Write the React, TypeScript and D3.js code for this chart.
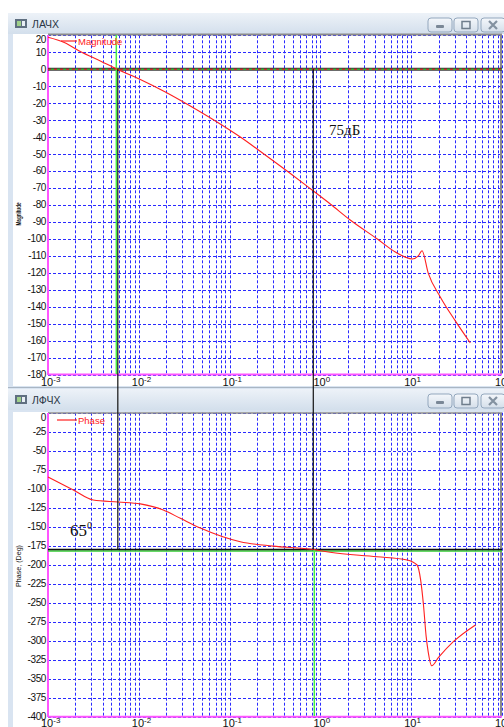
import { useEffect } from "react";
import * as d3 from "d3";

// --- data ---
const magFreq = [0.001, 0.00151, 0.00227, 0.00377, 0.0058, 0.01039, 0.0196, 0.0369, 0.0697, 0.1313, 0.247, 0.467, 0.836, 1.285, 2.13, 4.24, 6.68, 8.61, 10.28, 11.97, 13.15, 15.4, 20.9, 30.6, 44.8];
const magDb = [18.8, 15.75, 10.45, 4.85, 0, -6.06, -13.43, -21.68, -30.5, -39.96, -50.58, -61.5, -71.8, -79.45, -88.9, -100.1, -107.8, -110.8, -111.9, -110.1, -107, -120.2, -134.3, -148.4, -161.4];

const phFreq = [0.001, 0.0019, 0.00315, 0.00594, 0.0104, 0.0186, 0.0287, 0.0476, 0.131, 0.3, 0.835, 1.28, 4.2, 9.0, 11.6, 12.7, 13.7, 14.6, 15.4, 16.8, 20, 29.3, 51];
const phDeg = [-84.6, -101.7, -114.9, -117.5, -120, -128, -139, -151.7, -169.7, -175.5, -180, -183.7, -189.5, -193.8, -200.4, -220, -255, -294, -315, -333, -322, -301, -279.3];

const magTicks = [20, 10, 0, -10, -20, -30, -40, -50, -60, -70, -80, -90, -100, -110, -120, -130, -140, -150, -160, -170, -180];
const phTicks = [0, -25, -50, -75, -100, -125, -150, -175, -200, -225, -250, -275, -300, -325, -350, -375, -400];
const decadeExps = [-3, -2, -1, 0, 1, 2];

const crossFreq = 0.0058; // 0 dB crossing
const phase180Freq = 0.835; // -180 deg crossing

const W = 504;
const H = 727;
const FONT = "'Liberation Sans', Arial, sans-serif";
const SERIF = "'Liberation Serif', 'Times New Roman', serif";

const x = d3.scaleLog().domain([1e-3, 1e2]).range([48, 502]);
const yMag = d3.scaleLinear().domain([-180, 20]).range([374.5, 35.3]);
const yPh = d3.scaleLinear().domain([-400, 0]).range([716.7, 412.7]);

const magLine = d3
  .line<number>()
  .x((_, i) => x(magFreq[i]))
  .y((d) => yMag(d))
  .curve(d3.curveMonotoneX);

const phLine = d3
  .line<number>()
  .x((_, i) => x(phFreq[i]))
  .y((d) => yPh(d))
  .curve(d3.curveMonotoneX);

function TitleBar({ y, title }: { y: number; title: string }) {
  const bx = [428, 454, 481];
  return (
    <g>
      <rect x={8} y={y} width={W - 8} height={21} fill="url(#titleGrad)" />
      <rect x={15} y={y + 6} width={12} height={9} fill="#5f6f80" />
      <rect x={17} y={y + 8} width={4} height={5} fill="#9fd08a" />
      <rect x={22} y={y + 8} width={3} height={5} fill="#e8eef4" />
      <text x={32} y={y + 15} fontFamily={FONT} fontSize={10.5} fill="#2a3645">
        {title}
      </text>
      {bx.map((b, i) => (
        <g key={i}>
          <rect x={b} y={y + 5} width={24} height={14} rx={3} fill="url(#btnGrad)" stroke="#93a7bd" />
          {i === 0 && <rect x={b + 8} y={y + 12} width={8} height={3} rx={1} fill="#7a8796" />}
          {i === 1 && <rect x={b + 8} y={y + 8.5} width={8} height={7} fill="none" stroke="#6f7d8c" strokeWidth={1.5} />}
          {i === 2 && (
            <path
              d={`M${b + 8},${y + 8} L${b + 16},${y + 16} M${b + 16},${y + 8} L${b + 8},${y + 16}`}
              stroke="#8391a0"
              strokeWidth={2.2}
            />
          )}
        </g>
      ))}
    </g>
  );
}

function Grid({ yScale, ticks }: { yScale: d3.ScaleLinear<number, number>; ticks: number[] }) {
  const [y0, y1] = yScale.range();
  return (
    <g stroke="#2a2aff" strokeWidth={1} strokeDasharray="3,2" fill="none">
      {x.ticks().map((t, i) => (
        <line key={"v" + i} x1={Math.round(x(t)) + 0.5} x2={Math.round(x(t)) + 0.5} y1={y1} y2={y0} />
      ))}
      {ticks.map((t, i) => (
        <line key={"h" + i} x1={48} x2={502} y1={Math.round(yScale(t)) + 0.5} y2={Math.round(yScale(t)) + 0.5} />
      ))}
    </g>
  );
}

function YLabels({ yScale, ticks }: { yScale: d3.ScaleLinear<number, number>; ticks: number[] }) {
  const top = yScale.range()[1];
  return (
    <g fontFamily={FONT} fontSize={10} fill="#111" textAnchor="end" letterSpacing={-0.4}>
      {ticks.map((t, i) => {
        let yy = yScale(t) + 3.5;
        if (yy < top + 7) yy = top + 8;
        return (
          <text key={i} x={46} y={yy}>
            {t}
          </text>
        );
      })}
    </g>
  );
}

function XLabels({ baseline }: { baseline: number }) {
  return (
    <g fontFamily={FONT} fontSize={11} fill="#111">
      {decadeExps.map((e) => (
        <text key={e} x={x(Math.pow(10, e)) - 7} y={baseline}>
          10
          <tspan fontSize={8} dy={-4}>
            {e < 0 ? "-" + Math.abs(e) : String(e)}
          </tspan>
        </text>
      ))}
    </g>
  );
}

export default function App() {
  useEffect(() => {
    document.body.style.margin = "0";
  }, []);

  const xc = x(crossFreq);
  const x180 = x(phase180Freq);

  return (
    <div style={{ position: "fixed", left: 0, top: 0 }}>
      <svg width={W} height={H} style={{ display: "block", background: "#fff" }}>
        <defs>
          <linearGradient id="titleGrad" x1="0" y1="0" x2="0" y2="1">
            <stop offset="0" stopColor="#edf2f8" />
            <stop offset="1" stopColor="#d3dfec" />
          </linearGradient>
          <linearGradient id="btnGrad" x1="0" y1="0" x2="0" y2="1">
            <stop offset="0" stopColor="#f4f7fb" />
            <stop offset="1" stopColor="#d5dfea" />
          </linearGradient>
        </defs>

        {/* window frames */}
        <rect x={8} y={13} width={W - 8} height={374} fill="#d9e4f1" />
        <rect x={13} y={34} width={W - 13} height={352} fill="#fff" />
        <TitleBar y={13} title="ЛАЧХ" />
        <rect x={8} y={388} width={W - 8} height={H - 388} fill="#d9e4f1" />
        <line x1={8} x2={W} y1={387.5} y2={387.5} stroke="#a9b6c4" />
        <rect x={13} y={412} width={W - 13} height={H - 412} fill="#fff" />
        <TitleBar y={389} title="ЛФЧХ" />

        {/* magnitude plot */}
        <Grid yScale={yMag} ticks={magTicks} />
        <line x1={48} x2={502} y1={34.5} y2={34.5} stroke="#8a8a8a" strokeWidth={2} />
        <line x1={501} x2={501} y1={34} y2={375} stroke="#8a8a8a" strokeWidth={2} />
        <line x1={48} x2={48} y1={35} y2={375} stroke="#ff55ff" strokeWidth={2} />
        <line x1={48} x2={502} y1={374.5} y2={374.5} stroke="#ff55ff" strokeWidth={2} />
        <line x1={48} x2={502} y1={yMag(0)} y2={yMag(0)} stroke="#3a3a3a" strokeWidth={3} />
        <line x1={48} x2={502} y1={yMag(0)} y2={yMag(0)} stroke="#ff2a2a" strokeWidth={1} strokeDasharray="3,3" />
        <line x1={51} x2={502} y1={yMag(0)} y2={yMag(0)} stroke="#33dd33" strokeWidth={1} strokeDasharray="3,3" />
        <line x1={xc - 1} x2={xc - 1} y1={35} y2={374} stroke="#44ee44" strokeWidth={1.5} />
        <path d={magLine(magDb) ?? ""} fill="none" stroke="#ff2020" strokeWidth={1.1} />
        <line x1={61} x2={77} y1={41} y2={41} stroke="#ff2020" strokeWidth={1.2} />
        <text x={78} y={44.5} fontFamily={FONT} fontSize={9.5} fill="#ff2020">
          Magnitude
        </text>
        <YLabels yScale={yMag} ticks={magTicks} />
        <XLabels baseline={386} />
        <text
          transform="translate(21,214) rotate(-90)"
          textAnchor="middle"
          fontFamily={FONT}
          fontSize={7.5}
          fontWeight="bold"
          fill="#111"
          textLength={23}
          lengthAdjust="spacingAndGlyphs"
        >
          Magnitude
        </text>
        <text x={329} y={135} fontFamily={SERIF} fontSize={15} fill="#111">
          75дБ
        </text>

        {/* phase plot */}
        <Grid yScale={yPh} ticks={phTicks} />
        <line x1={48} x2={502} y1={413} y2={413} stroke="#8a8a8a" strokeWidth={1.5} />
        <line x1={501} x2={501} y1={413} y2={717} stroke="#8a8a8a" strokeWidth={2} />
        <line x1={48} x2={48} y1={413} y2={717} stroke="#ff55ff" strokeWidth={2} />
        <line x1={48} x2={502} y1={716.7} y2={716.7} stroke="#ff55ff" strokeWidth={2} />
        <line x1={48} x2={502} y1={yPh(-180) + 1.5} y2={yPh(-180) + 1.5} stroke="#33cc33" strokeWidth={1.5} />
        <line x1={48} x2={502} y1={yPh(-180)} y2={yPh(-180)} stroke="#111" strokeWidth={1.5} />
        <line x1={x180 + 1} x2={x180 + 1} y1={yPh(-180)} y2={716} stroke="#44ee44" strokeWidth={1.5} />
        <path d={phLine(phDeg) ?? ""} fill="none" stroke="#ff2020" strokeWidth={1.1} />
        <line x1={57} x2={77} y1={420} y2={420} stroke="#ff2020" strokeWidth={1.2} />
        <text x={78} y={423.5} fontFamily={FONT} fontSize={9.5} fill="#ff2020">
          Phase
        </text>
        <YLabels yScale={yPh} ticks={phTicks} />
        <XLabels baseline={727} />
        <text
          transform="translate(21,566) rotate(-90)"
          textAnchor="middle"
          fontFamily={FONT}
          fontSize={8}
          fill="#111"
          textLength={42}
          lengthAdjust="spacingAndGlyphs"
        >
          Phase, (Deg)
        </text>
        <text x={70} y={536} fontFamily={SERIF} fontSize={17} fill="#111">
          65
          <tspan fontSize={10} dy={-7}>
            0
          </tspan>
        </text>

        {/* crossing markers spanning both windows */}
        <line x1={xc + 0.5} x2={xc + 0.5} y1={yMag(0)} y2={yPh(-180)} stroke="#111" strokeWidth={1.2} />
        <line x1={x180} x2={x180} y1={yMag(0)} y2={yPh(-180)} stroke="#111" strokeWidth={1.2} />
      </svg>
    </div>
  );
}
